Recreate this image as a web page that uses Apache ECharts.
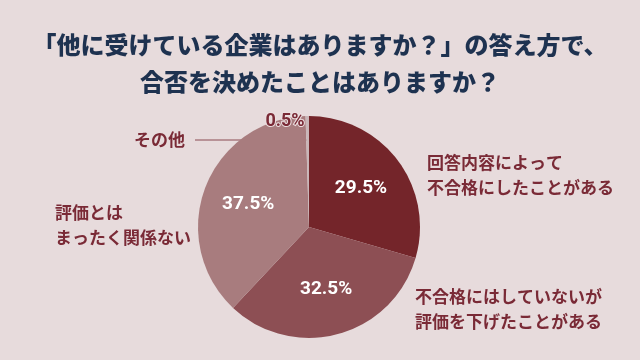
<!DOCTYPE html>
<html><head><meta charset="utf-8">
<script src="https://cdn.jsdelivr.net/npm/echarts@6/dist/echarts.min.js"></script>
<style>html,body{margin:0;padding:0;background:#e7dbdc}#c{width:640px;height:360px}</style>
</head><body><div id="c"></div>
<script>
const titleLines = ['「他に受けている企業はありますか？」の答え方で、', '合否を決めたことはありますか？'];
const categories = ['回答内容によって\n不合格にしたことがある', '不合格にはしていないが\n評価を下げたことがある', '評価とは\nまったく関係ない', 'その他'];
const values = [29.5, 32.5, 37.5, 0.5];
const colors = ['#74252a', '#8d4f54', '#a87c7e', '#c9b6b8'];

const chart = echarts.init(document.getElementById('c'), null, {renderer: 'canvas'});
const labelColor = '#7a2a36';
const fontCJK = '"Noto Sans CJK JP", "Noto Sans", sans-serif';
const center = [309, 227];

const nameLayout = {
  0: {x: 427, y: 175, align: 'left'},
  1: {x: 415, y: 309, align: 'left'},
  2: {x: 55, y: 225, align: 'left'},
  3: {x: 185, y: 140, align: 'right', labelLinePoints: [[308, 140], [250, 140], [195, 140]]}
};

const option = {
  backgroundColor: '#e7dbdc',
  animation: false,
  title: {
    text: titleLines.join('\n'),
    left: 'center', top: 21,
    textStyle: {fontFamily: fontCJK, fontSize: 24, fontWeight: 900, color: '#1e3250', lineHeight: 37}
  },
  series: [
    {
      type: 'pie', center: center, radius: [0, 111], startAngle: 90, clockwise: true,
      silent: true, label: {show: false}, labelLine: {show: false},
      data: categories.map((n, i) => ({name: n, value: values[i], itemStyle: {color: colors[i]}}))
    },
    {
      type: 'pie', center: center, radius: [0, 124], startAngle: 90, clockwise: true,
      silent: true, itemStyle: {color: 'transparent'}, labelLine: {show: false},
      label: {show: true, position: 'inside', formatter: p => p.value + '%',
        fontFamily: 'Roboto, sans-serif', fontSize: 19, fontWeight: 'bold', color: '#ffffff'},
      labelLayout: p => p.dataIndex === 3 ? {x: 285, y: 121, align: 'center', verticalAlign: 'middle'} : undefined,
      data: categories.map((n, i) => ({name: n, value: values[i],
        label: i === 3 ? {color: labelColor, fontSize: 18, textBorderColor: '#ecdfe0', textBorderWidth: 2} : undefined}))
    },
    {
      type: 'pie', center: center, radius: [0, 111], startAngle: 90, clockwise: true,
      silent: true, itemStyle: {color: 'transparent'},
      label: {show: true, position: 'outside', formatter: p => p.name, overflow: 'none', width: 260,
        fontFamily: fontCJK, fontSize: 17, fontWeight: 'bold', color: labelColor, lineHeight: 25},
      labelLine: {show: true, lineStyle: {color: '#8a4a52', width: 1}},
      labelLayout: p => {
        const l = nameLayout[p.dataIndex];
        return {x: l.x, y: l.y, align: l.align, verticalAlign: 'middle', labelLinePoints: l.labelLinePoints};
      },
      data: categories.map((n, i) => ({name: n, value: values[i],
        labelLine: {show: i === 3}}))
    }
  ]
};
chart.setOption(option);
</script></body></html>
